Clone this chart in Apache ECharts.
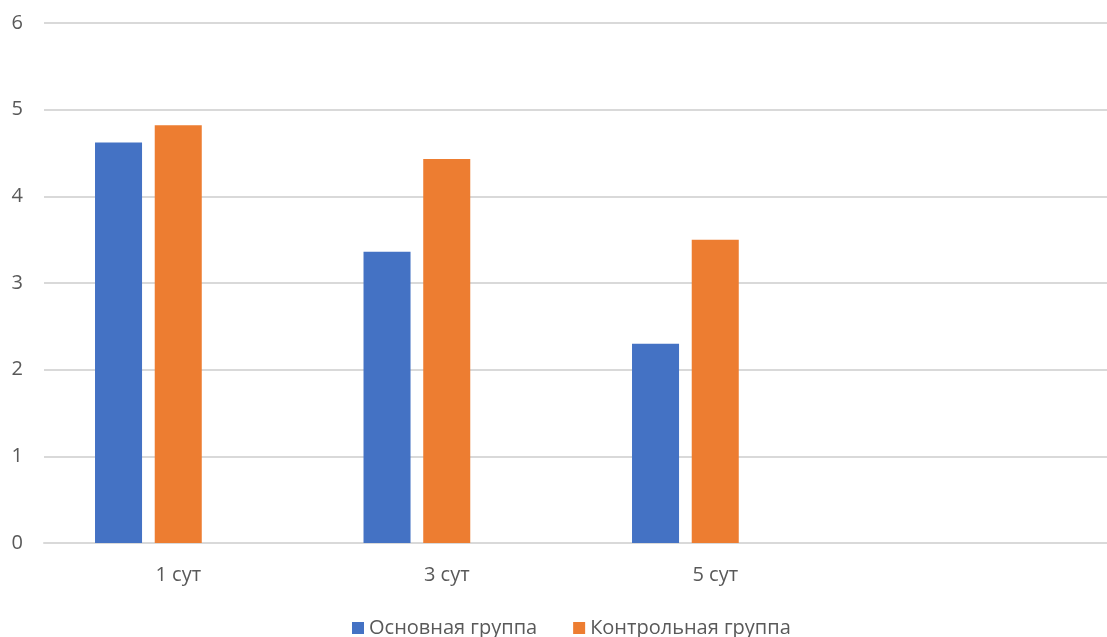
<!DOCTYPE html>
<html><head><meta charset="utf-8">
<script src="https://cdn.jsdelivr.net/npm/echarts@6/dist/echarts.min.js"></script>
<style>html,body{margin:0;padding:0;background:#fff;overflow:hidden}#c{width:1118px;height:637px}</style>
</head><body><div id="c"></div>
<script>
const categories = ['1 сут', '3 сут', '5 сут', ''];
const mainGroup = [4.62, 3.36, 2.30, null];
const controlGroup = [4.82, 4.43, 3.50, null];
const emptySeries = [null, null, null, null];
const seriesNames = ['Основная группа', 'Контрольная группа'];
const yTicks = [0, 6, 1];

const chart = echarts.init(document.getElementById('c'));
const font = '"Open Sans", "Noto Sans", sans-serif';
chart.setOption({
  animation: false,
  grid: { left: 44, right: 0, top: 23, bottom: 94, containLabel: false },
  legend: {
    data: seriesNames,
    left: 347, top: 613,
    itemWidth: 12, itemHeight: 12, itemGap: 36,
    icon: 'rect',
    textStyle: { fontFamily: font, fontSize: 20, color: '#595959' }
  },
  xAxis: {
    type: 'category', data: categories,
    axisLine: { lineStyle: { color: '#D9D9D9', width: 2 } },
    axisTick: { show: false },
    axisLabel: { fontFamily: font, fontSize: 20, color: '#595959', margin: 22 }
  },
  yAxis: {
    type: 'value', min: yTicks[0], max: yTicks[1], interval: yTicks[2],
    axisLine: { show: false }, axisTick: { show: false },
    splitLine: { lineStyle: { color: '#D9D9D9', width: 2 } },
    axisLabel: { fontFamily: font, fontSize: 20, color: '#595959', margin: 21 }
  },
  series: [
    { name: seriesNames[0], type: 'bar', data: mainGroup, itemStyle: { color: '#4472C4' }, barGap: '27%', barCategoryGap: '38%' },
    { name: seriesNames[1], type: 'bar', data: controlGroup, itemStyle: { color: '#ED7D31' }, barGap: '27%', barCategoryGap: '38%' },
    { name: 'empty', type: 'bar', data: emptySeries, itemStyle: { color: '#A5A5A5' }, barGap: '27%', barCategoryGap: '38%' }
  ]
});
</script></body></html>
